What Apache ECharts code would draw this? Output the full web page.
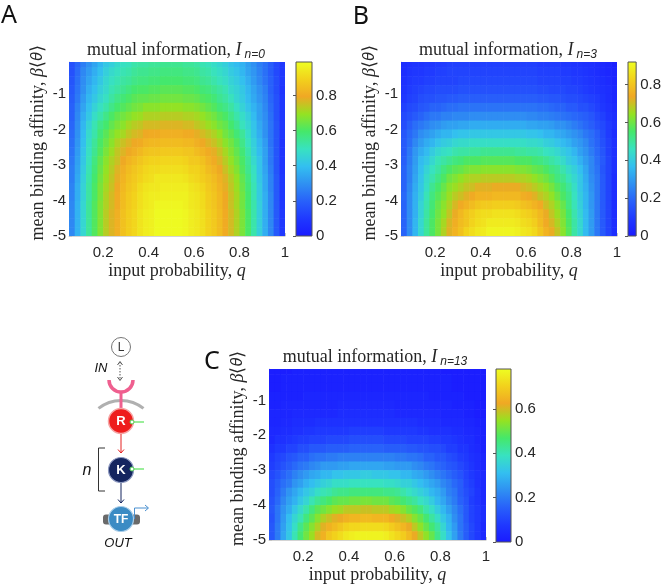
<!DOCTYPE html>
<html>
<head>
<meta charset="utf-8">
<script src="https://cdn.jsdelivr.net/npm/echarts@6.0.0/dist/echarts.min.js"></script>
<style>
html, body { margin: 0; padding: 0; background: #fff; }
#main { width: 664px; height: 585px; }
</style>
</head>
<body>
<div id="main"></div>
<script>
// cell centres of the q / <theta> grid
var qCenters = [0.0625, 0.0875, 0.1125, 0.1375, 0.1625, 0.1875, 0.2125, 0.2375, 0.2625, 0.2875,
                0.3125, 0.3375, 0.3625, 0.3875, 0.4125, 0.4375, 0.4625, 0.4875, 0.5125, 0.5375,
                0.5625, 0.5875, 0.6125, 0.6375, 0.6625, 0.6875, 0.7125, 0.7375, 0.7625, 0.7875,
                0.8125, 0.8375, 0.8625, 0.8875, 0.9125, 0.9375, 0.9625, 0.9875];
var thetaCenters = [-0.125, -0.375, -0.625, -0.875, -1.125, -1.375, -1.625, -1.875, -2.125, -2.375,
                    -2.625, -2.875, -3.125, -3.375, -3.625, -3.875, -4.125, -4.375, -4.625, -4.875];
var xTicks = [0.2, 0.4, 0.6, 0.8, 1];
var yTicks = [-5, -4, -3, -2, -1];
var cbTicks = [0, 0.2, 0.4, 0.6, 0.8];
var cbMax = [0.99, 0.92, 0.78];
var subLabels = ['n=0', 'n=3', 'n=13'];
var panelLetters = ['A', 'B', 'C'];

// mutual information, rows top (-0.125) to bottom (-4.875)
var miN0 = [
  [0.16,0.21,0.26,0.30,0.34,0.38,0.42,0.44,0.47,0.49,0.50,0.52,0.53,0.53,0.54,0.54,0.55,0.55,0.55,0.55,0.54,0.54,0.53,0.51,0.50,0.48,0.46,0.44,0.41,0.39,0.37,0.33,0.30,0.26,0.23,0.19,0.14,0.10],
  [0.16,0.22,0.28,0.32,0.36,0.40,0.44,0.47,0.49,0.51,0.52,0.54,0.55,0.55,0.56,0.56,0.57,0.57,0.57,0.57,0.56,0.56,0.55,0.53,0.52,0.50,0.48,0.46,0.43,0.41,0.38,0.34,0.31,0.27,0.23,0.19,0.14,0.10],
  [0.17,0.23,0.29,0.34,0.38,0.42,0.46,0.49,0.51,0.53,0.54,0.56,0.57,0.57,0.58,0.58,0.59,0.59,0.59,0.59,0.58,0.58,0.57,0.55,0.54,0.52,0.50,0.48,0.45,0.43,0.40,0.36,0.32,0.28,0.24,0.20,0.15,0.10],
  [0.18,0.24,0.30,0.36,0.40,0.44,0.47,0.51,0.53,0.55,0.57,0.59,0.60,0.60,0.61,0.61,0.62,0.62,0.62,0.62,0.61,0.61,0.60,0.58,0.57,0.55,0.53,0.51,0.47,0.45,0.42,0.38,0.34,0.30,0.26,0.20,0.15,0.09],
  [0.19,0.25,0.32,0.38,0.42,0.46,0.49,0.53,0.56,0.58,0.60,0.62,0.63,0.63,0.64,0.64,0.65,0.65,0.65,0.65,0.64,0.64,0.63,0.61,0.60,0.58,0.55,0.53,0.50,0.46,0.43,0.39,0.35,0.31,0.27,0.21,0.16,0.10],
  [0.20,0.27,0.34,0.40,0.45,0.49,0.52,0.56,0.59,0.61,0.63,0.65,0.66,0.68,0.68,0.68,0.69,0.69,0.69,0.69,0.68,0.68,0.67,0.65,0.63,0.61,0.58,0.56,0.53,0.49,0.45,0.41,0.37,0.33,0.28,0.22,0.16,0.10],
  [0.20,0.28,0.36,0.42,0.48,0.52,0.56,0.60,0.63,0.65,0.67,0.69,0.70,0.72,0.72,0.72,0.73,0.73,0.73,0.73,0.72,0.72,0.71,0.69,0.67,0.65,0.62,0.60,0.56,0.52,0.48,0.44,0.39,0.33,0.29,0.23,0.16,0.10],
  [0.21,0.29,0.38,0.45,0.51,0.56,0.59,0.63,0.66,0.68,0.71,0.73,0.74,0.76,0.76,0.76,0.77,0.77,0.77,0.77,0.76,0.76,0.74,0.72,0.70,0.68,0.65,0.63,0.59,0.55,0.50,0.46,0.41,0.35,0.30,0.24,0.17,0.10],
  [0.22,0.30,0.39,0.47,0.52,0.58,0.62,0.66,0.69,0.71,0.74,0.76,0.77,0.79,0.80,0.80,0.81,0.81,0.81,0.81,0.80,0.80,0.78,0.76,0.74,0.72,0.69,0.65,0.62,0.58,0.54,0.48,0.42,0.36,0.30,0.24,0.17,0.10],
  [0.23,0.31,0.40,0.48,0.54,0.60,0.64,0.68,0.72,0.75,0.77,0.79,0.80,0.82,0.83,0.83,0.84,0.84,0.84,0.84,0.83,0.83,0.81,0.79,0.77,0.75,0.72,0.68,0.65,0.61,0.56,0.50,0.44,0.38,0.32,0.24,0.17,0.09],
  [0.24,0.32,0.41,0.49,0.55,0.61,0.66,0.70,0.74,0.77,0.79,0.81,0.83,0.85,0.86,0.86,0.87,0.87,0.87,0.87,0.86,0.86,0.84,0.82,0.80,0.78,0.75,0.71,0.67,0.63,0.58,0.52,0.45,0.39,0.33,0.25,0.17,0.09],
  [0.25,0.33,0.42,0.50,0.57,0.63,0.68,0.72,0.75,0.79,0.82,0.84,0.86,0.88,0.89,0.89,0.90,0.90,0.90,0.90,0.89,0.87,0.87,0.85,0.82,0.80,0.77,0.73,0.69,0.65,0.60,0.54,0.47,0.41,0.33,0.25,0.17,0.09],
  [0.26,0.34,0.43,0.51,0.58,0.64,0.69,0.73,0.77,0.81,0.84,0.86,0.88,0.90,0.91,0.91,0.92,0.92,0.92,0.92,0.91,0.89,0.89,0.87,0.84,0.82,0.79,0.75,0.71,0.67,0.61,0.55,0.49,0.41,0.34,0.26,0.17,0.09],
  [0.26,0.35,0.44,0.52,0.59,0.65,0.70,0.74,0.78,0.82,0.85,0.87,0.89,0.91,0.92,0.94,0.94,0.94,0.94,0.94,0.93,0.91,0.90,0.88,0.86,0.84,0.81,0.77,0.73,0.69,0.63,0.57,0.50,0.42,0.35,0.27,0.18,0.10],
  [0.27,0.36,0.45,0.53,0.60,0.66,0.71,0.75,0.79,0.83,0.86,0.88,0.91,0.93,0.94,0.94,0.95,0.95,0.95,0.95,0.95,0.93,0.92,0.90,0.87,0.85,0.82,0.78,0.74,0.70,0.64,0.58,0.51,0.43,0.35,0.27,0.18,0.10],
  [0.27,0.36,0.45,0.53,0.60,0.66,0.72,0.76,0.80,0.84,0.87,0.89,0.92,0.94,0.95,0.95,0.96,0.96,0.96,0.96,0.96,0.94,0.93,0.91,0.88,0.86,0.83,0.79,0.75,0.71,0.65,0.59,0.51,0.43,0.36,0.28,0.18,0.10],
  [0.28,0.37,0.46,0.54,0.61,0.67,0.72,0.76,0.80,0.84,0.87,0.89,0.92,0.94,0.95,0.97,0.97,0.97,0.97,0.97,0.96,0.94,0.93,0.91,0.88,0.86,0.83,0.79,0.75,0.71,0.65,0.59,0.52,0.44,0.36,0.28,0.18,0.10],
  [0.28,0.37,0.46,0.54,0.61,0.67,0.73,0.77,0.81,0.85,0.88,0.90,0.93,0.95,0.96,0.98,0.98,0.98,0.98,0.98,0.97,0.95,0.94,0.92,0.89,0.87,0.84,0.80,0.76,0.72,0.66,0.60,0.52,0.44,0.36,0.28,0.18,0.10],
  [0.28,0.37,0.46,0.54,0.61,0.67,0.73,0.77,0.81,0.85,0.88,0.90,0.93,0.95,0.96,0.98,0.98,0.98,0.98,0.98,0.97,0.95,0.94,0.92,0.89,0.87,0.84,0.80,0.76,0.72,0.66,0.60,0.52,0.44,0.36,0.28,0.18,0.10],
  [0.28,0.37,0.46,0.54,0.61,0.67,0.73,0.77,0.81,0.85,0.88,0.90,0.93,0.95,0.96,0.98,0.98,0.98,0.98,0.98,0.97,0.95,0.94,0.92,0.89,0.87,0.84,0.80,0.76,0.72,0.66,0.60,0.52,0.44,0.36,0.28,0.18,0.10]
];
var miN3 = [
  [0.06,0.07,0.08,0.08,0.09,0.09,0.10,0.10,0.11,0.11,0.11,0.11,0.11,0.11,0.11,0.11,0.11,0.11,0.11,0.11,0.11,0.11,0.11,0.11,0.10,0.10,0.10,0.10,0.09,0.09,0.08,0.08,0.07,0.07,0.06,0.05,0.04,0.02],
  [0.06,0.08,0.09,0.09,0.10,0.10,0.11,0.11,0.12,0.12,0.12,0.12,0.12,0.12,0.12,0.12,0.12,0.12,0.12,0.12,0.12,0.12,0.12,0.12,0.11,0.11,0.11,0.11,0.10,0.10,0.09,0.09,0.08,0.07,0.06,0.05,0.04,0.03],
  [0.07,0.09,0.10,0.10,0.11,0.11,0.12,0.12,0.12,0.12,0.13,0.13,0.13,0.13,0.13,0.13,0.13,0.13,0.13,0.13,0.13,0.13,0.13,0.13,0.12,0.12,0.12,0.12,0.11,0.11,0.10,0.10,0.09,0.08,0.07,0.06,0.05,0.03],
  [0.08,0.10,0.11,0.12,0.13,0.13,0.14,0.14,0.14,0.14,0.15,0.15,0.15,0.15,0.15,0.15,0.15,0.15,0.15,0.15,0.15,0.15,0.15,0.15,0.14,0.14,0.13,0.13,0.13,0.12,0.12,0.11,0.10,0.09,0.08,0.07,0.06,0.04],
  [0.09,0.11,0.12,0.14,0.15,0.15,0.16,0.16,0.17,0.17,0.18,0.18,0.18,0.18,0.18,0.18,0.18,0.18,0.18,0.18,0.18,0.18,0.18,0.18,0.17,0.17,0.16,0.16,0.15,0.14,0.14,0.13,0.12,0.11,0.10,0.08,0.06,0.04],
  [0.11,0.13,0.14,0.16,0.17,0.19,0.19,0.20,0.21,0.21,0.22,0.22,0.22,0.22,0.22,0.22,0.22,0.22,0.22,0.22,0.22,0.22,0.22,0.22,0.21,0.21,0.20,0.19,0.19,0.17,0.17,0.15,0.15,0.13,0.11,0.09,0.07,0.05],
  [0.13,0.15,0.17,0.19,0.21,0.23,0.23,0.25,0.25,0.26,0.26,0.26,0.27,0.27,0.27,0.27,0.27,0.27,0.27,0.27,0.27,0.27,0.26,0.26,0.25,0.25,0.24,0.23,0.22,0.21,0.20,0.19,0.18,0.16,0.13,0.11,0.08,0.06],
  [0.14,0.18,0.21,0.23,0.25,0.27,0.28,0.30,0.31,0.31,0.32,0.32,0.33,0.33,0.33,0.33,0.33,0.33,0.33,0.33,0.33,0.33,0.32,0.32,0.31,0.31,0.30,0.28,0.28,0.26,0.24,0.22,0.20,0.18,0.15,0.13,0.10,0.07],
  [0.16,0.20,0.23,0.27,0.29,0.31,0.33,0.35,0.35,0.37,0.38,0.38,0.39,0.39,0.39,0.39,0.39,0.39,0.39,0.39,0.39,0.39,0.38,0.38,0.37,0.35,0.35,0.33,0.32,0.30,0.28,0.26,0.23,0.21,0.18,0.14,0.10,0.06],
  [0.17,0.21,0.26,0.30,0.33,0.35,0.38,0.40,0.41,0.43,0.44,0.44,0.45,0.45,0.45,0.45,0.45,0.45,0.45,0.45,0.45,0.45,0.44,0.44,0.43,0.41,0.40,0.38,0.36,0.34,0.31,0.29,0.26,0.22,0.19,0.15,0.11,0.07],
  [0.17,0.23,0.29,0.33,0.36,0.40,0.43,0.45,0.46,0.48,0.49,0.49,0.50,0.50,0.51,0.51,0.51,0.51,0.51,0.51,0.50,0.50,0.49,0.49,0.48,0.46,0.45,0.43,0.40,0.38,0.35,0.31,0.28,0.24,0.20,0.16,0.11,0.07],
  [0.18,0.24,0.30,0.36,0.39,0.43,0.47,0.49,0.51,0.53,0.54,0.56,0.56,0.56,0.57,0.57,0.57,0.57,0.57,0.57,0.56,0.56,0.56,0.54,0.53,0.51,0.49,0.47,0.44,0.40,0.38,0.34,0.30,0.26,0.21,0.17,0.12,0.07],
  [0.19,0.25,0.31,0.37,0.42,0.46,0.49,0.53,0.56,0.58,0.59,0.61,0.62,0.62,0.63,0.63,0.63,0.63,0.63,0.63,0.62,0.62,0.61,0.59,0.58,0.56,0.53,0.51,0.48,0.44,0.41,0.37,0.32,0.26,0.22,0.16,0.12,0.07],
  [0.19,0.25,0.32,0.38,0.44,0.48,0.52,0.56,0.60,0.62,0.64,0.66,0.67,0.67,0.68,0.68,0.68,0.68,0.68,0.68,0.67,0.67,0.66,0.64,0.62,0.60,0.57,0.53,0.51,0.47,0.43,0.39,0.33,0.27,0.23,0.17,0.12,0.06],
  [0.19,0.26,0.33,0.39,0.45,0.51,0.55,0.59,0.63,0.65,0.67,0.69,0.70,0.72,0.72,0.72,0.73,0.73,0.73,0.73,0.73,0.71,0.70,0.68,0.66,0.64,0.61,0.57,0.54,0.50,0.45,0.39,0.34,0.28,0.23,0.17,0.12,0.06],
  [0.20,0.27,0.34,0.40,0.47,0.53,0.57,0.61,0.65,0.68,0.70,0.72,0.74,0.76,0.76,0.76,0.77,0.77,0.77,0.77,0.77,0.75,0.74,0.72,0.69,0.67,0.64,0.60,0.56,0.52,0.46,0.40,0.35,0.29,0.23,0.17,0.12,0.06],
  [0.19,0.27,0.34,0.42,0.48,0.54,0.59,0.63,0.67,0.71,0.74,0.76,0.78,0.80,0.81,0.81,0.82,0.82,0.82,0.82,0.81,0.79,0.78,0.76,0.74,0.70,0.67,0.63,0.59,0.53,0.47,0.41,0.35,0.29,0.23,0.17,0.12,0.06],
  [0.19,0.27,0.34,0.42,0.49,0.55,0.60,0.64,0.69,0.73,0.77,0.80,0.82,0.84,0.85,0.85,0.86,0.86,0.86,0.86,0.85,0.83,0.82,0.80,0.77,0.73,0.69,0.65,0.61,0.55,0.48,0.42,0.36,0.30,0.23,0.17,0.12,0.06],
  [0.19,0.27,0.35,0.43,0.50,0.56,0.61,0.66,0.71,0.75,0.78,0.80,0.83,0.85,0.86,0.88,0.88,0.88,0.88,0.88,0.87,0.85,0.84,0.82,0.78,0.74,0.71,0.67,0.62,0.56,0.49,0.43,0.36,0.30,0.23,0.17,0.12,0.06],
  [0.19,0.27,0.35,0.43,0.50,0.56,0.61,0.67,0.72,0.76,0.79,0.83,0.85,0.87,0.88,0.90,0.90,0.90,0.90,0.90,0.89,0.87,0.86,0.84,0.80,0.76,0.73,0.69,0.63,0.57,0.49,0.43,0.36,0.30,0.23,0.17,0.12,0.06]
];
var miN13 = [
  [0.01,0.01,0.01,0.01,0.02,0.02,0.02,0.02,0.02,0.02,0.02,0.02,0.02,0.02,0.02,0.02,0.02,0.02,0.02,0.02,0.02,0.02,0.02,0.02,0.02,0.02,0.02,0.02,0.02,0.02,0.01,0.01,0.01,0.01,0.01,0.01,0.01,0.01],
  [0.01,0.01,0.02,0.02,0.02,0.02,0.02,0.02,0.02,0.02,0.02,0.02,0.02,0.02,0.02,0.02,0.02,0.02,0.02,0.02,0.02,0.02,0.02,0.02,0.02,0.02,0.02,0.02,0.02,0.02,0.02,0.02,0.01,0.01,0.01,0.01,0.01,0.01],
  [0.01,0.01,0.02,0.02,0.02,0.02,0.02,0.02,0.02,0.02,0.02,0.02,0.02,0.02,0.02,0.02,0.02,0.02,0.02,0.02,0.02,0.02,0.02,0.02,0.02,0.02,0.02,0.02,0.02,0.02,0.02,0.02,0.01,0.01,0.01,0.01,0.01,0.01],
  [0.02,0.02,0.02,0.02,0.02,0.02,0.03,0.03,0.03,0.03,0.03,0.03,0.03,0.03,0.03,0.03,0.03,0.03,0.03,0.03,0.03,0.03,0.03,0.03,0.03,0.03,0.03,0.03,0.02,0.02,0.02,0.02,0.02,0.02,0.01,0.01,0.01,0.01],
  [0.02,0.02,0.03,0.03,0.03,0.03,0.03,0.03,0.03,0.03,0.03,0.03,0.04,0.04,0.04,0.04,0.04,0.04,0.04,0.04,0.04,0.04,0.03,0.03,0.03,0.03,0.03,0.03,0.03,0.03,0.03,0.03,0.02,0.02,0.02,0.02,0.01,0.01],
  [0.03,0.03,0.03,0.03,0.04,0.04,0.04,0.04,0.04,0.04,0.04,0.04,0.05,0.05,0.05,0.05,0.05,0.05,0.05,0.05,0.05,0.05,0.04,0.04,0.04,0.04,0.04,0.04,0.04,0.04,0.03,0.03,0.03,0.03,0.02,0.02,0.01,0.01],
  [0.03,0.03,0.04,0.04,0.05,0.05,0.05,0.05,0.06,0.06,0.06,0.06,0.06,0.06,0.06,0.06,0.06,0.06,0.06,0.06,0.06,0.06,0.06,0.06,0.06,0.06,0.05,0.05,0.05,0.05,0.04,0.04,0.04,0.04,0.03,0.03,0.02,0.02],
  [0.04,0.04,0.05,0.05,0.06,0.06,0.07,0.07,0.08,0.08,0.08,0.08,0.08,0.08,0.09,0.09,0.09,0.09,0.09,0.09,0.08,0.08,0.08,0.08,0.08,0.08,0.07,0.07,0.06,0.06,0.06,0.06,0.05,0.05,0.04,0.04,0.03,0.02],
  [0.04,0.06,0.06,0.07,0.08,0.09,0.09,0.10,0.10,0.10,0.11,0.11,0.11,0.11,0.12,0.12,0.12,0.12,0.12,0.12,0.11,0.11,0.11,0.11,0.10,0.10,0.10,0.10,0.09,0.09,0.08,0.08,0.07,0.06,0.05,0.05,0.03,0.02],
  [0.06,0.08,0.08,0.10,0.10,0.12,0.12,0.14,0.14,0.14,0.15,0.15,0.15,0.15,0.16,0.16,0.16,0.16,0.16,0.16,0.15,0.15,0.15,0.15,0.14,0.14,0.13,0.13,0.12,0.12,0.11,0.09,0.09,0.07,0.07,0.05,0.04,0.02],
  [0.08,0.10,0.11,0.13,0.14,0.16,0.16,0.18,0.19,0.19,0.20,0.20,0.21,0.21,0.21,0.21,0.21,0.21,0.21,0.21,0.21,0.21,0.20,0.20,0.19,0.19,0.18,0.16,0.16,0.14,0.14,0.12,0.11,0.09,0.08,0.06,0.05,0.03],
  [0.09,0.11,0.13,0.15,0.17,0.19,0.20,0.22,0.23,0.25,0.25,0.25,0.26,0.26,0.27,0.27,0.27,0.27,0.27,0.27,0.26,0.26,0.25,0.25,0.25,0.23,0.22,0.20,0.19,0.17,0.16,0.14,0.13,0.11,0.09,0.07,0.05,0.03],
  [0.11,0.13,0.16,0.18,0.21,0.23,0.25,0.27,0.28,0.30,0.30,0.32,0.32,0.33,0.33,0.33,0.34,0.34,0.33,0.33,0.33,0.32,0.32,0.30,0.30,0.28,0.27,0.25,0.23,0.21,0.19,0.17,0.15,0.13,0.10,0.08,0.06,0.04],
  [0.12,0.15,0.18,0.20,0.24,0.26,0.29,0.31,0.33,0.35,0.36,0.38,0.38,0.38,0.39,0.39,0.39,0.39,0.39,0.39,0.38,0.38,0.37,0.35,0.35,0.33,0.31,0.29,0.27,0.25,0.22,0.20,0.17,0.15,0.11,0.09,0.06,0.04],
  [0.12,0.16,0.20,0.24,0.27,0.30,0.33,0.35,0.38,0.40,0.41,0.43,0.44,0.44,0.45,0.45,0.45,0.45,0.45,0.45,0.44,0.44,0.43,0.41,0.39,0.37,0.35,0.33,0.30,0.28,0.25,0.21,0.19,0.15,0.12,0.10,0.07,0.04],
  [0.13,0.17,0.22,0.26,0.29,0.33,0.36,0.40,0.43,0.45,0.47,0.49,0.50,0.50,0.51,0.51,0.52,0.52,0.51,0.51,0.51,0.49,0.48,0.46,0.44,0.42,0.39,0.37,0.34,0.30,0.27,0.23,0.20,0.16,0.13,0.09,0.07,0.04],
  [0.14,0.19,0.24,0.28,0.33,0.37,0.41,0.45,0.49,0.51,0.53,0.55,0.56,0.58,0.58,0.58,0.59,0.59,0.58,0.58,0.58,0.56,0.55,0.53,0.50,0.48,0.45,0.41,0.38,0.34,0.30,0.26,0.22,0.18,0.14,0.10,0.08,0.05],
  [0.13,0.19,0.25,0.31,0.36,0.40,0.45,0.49,0.53,0.57,0.59,0.61,0.62,0.64,0.65,0.65,0.66,0.66,0.65,0.65,0.65,0.63,0.61,0.59,0.57,0.53,0.50,0.46,0.42,0.38,0.33,0.29,0.23,0.19,0.14,0.10,0.08,0.05],
  [0.14,0.20,0.26,0.32,0.38,0.44,0.49,0.53,0.57,0.61,0.64,0.66,0.68,0.70,0.71,0.71,0.72,0.72,0.72,0.72,0.71,0.69,0.67,0.65,0.62,0.58,0.54,0.50,0.46,0.42,0.36,0.30,0.25,0.19,0.15,0.11,0.08,0.04],
  [0.14,0.20,0.27,0.33,0.40,0.46,0.51,0.55,0.60,0.64,0.68,0.70,0.72,0.74,0.75,0.76,0.76,0.76,0.76,0.76,0.75,0.73,0.71,0.69,0.66,0.62,0.58,0.54,0.50,0.44,0.38,0.32,0.26,0.20,0.15,0.11,0.08,0.04]
];
var miSets = [miN0, miN3, miN13];

// blue -> cyan -> green -> orange -> yellow
var cmap = ['#1a1aff', '#1f38ff', '#2860fa', '#2f90f2', '#33bff0', '#38e2c0',
            '#45e86a', '#95e222', '#f0a824', '#f2d21c', '#eeff22'];

// pixel boxes [left, top, width, height]
var plotBox = [[69, 62, 216, 174], [401, 62, 216, 174], [269, 369, 217, 173]];
var barBox = [[296, 62, 16, 174], [628, 62, 16, 174], [496, 369, 15, 173]];
var titlePos = [[176, 50], [508, 50], [375, 357]];
var letterPos = [[9, 16], [361, 17], [212, 362]];

var tickFont = 'Liberation Sans';
var serif = 'Liberation Serif';

function toCells(rows) {
  var out = [];
  rows.forEach(function (row, i) {
    row.forEach(function (v, j) {
      out.push([qCenters[j], thetaCenters[i], v]);
    });
  });
  return out;
}

function renderCell(params, api) {
  var q = api.value(0), th = api.value(1);
  var a = api.coord([q - 0.0125, th + 0.125]);
  var b = api.coord([q + 0.0125, th - 0.125]);
  var cs = params.coordSys;
  var x0 = Math.max(a[0], cs.x), y0 = Math.max(a[1], cs.y);
  var x1 = Math.min(b[0] + 0.6, cs.x + cs.width), y1 = Math.min(b[1] + 0.6, cs.y + cs.height);
  if (x1 <= x0 || y1 <= y0) return;
  return {
    type: 'rect',
    shape: { x: x0, y: y0, width: x1 - x0, height: y1 - y0 },
    style: { fill: api.visual('color') }
  };
}

function renderBar(params, api) {
  var top = api.coord([0, api.value(1)]);
  var bot = api.coord([1, 0]);
  var stops = cmap.map(function (c, i) { return { offset: i / (cmap.length - 1), color: c }; });
  return {
    type: 'rect',
    shape: { x: top[0], y: top[1], width: bot[0] - top[0], height: bot[1] - top[1] },
    style: {
      fill: new echarts.graphic.LinearGradient(0, 1, 0, 0, stops),
      stroke: '#555', lineWidth: 1
    }
  };
}

var grids = [], xAxes = [], yAxes = [], series = [], visualMaps = [], graphics = [];

for (var k = 0; k < 3; k++) {
  var pb = plotBox[k], bb = barBox[k];
  grids.push({ left: pb[0], top: pb[1], width: pb[2], height: pb[3] });
  grids.push({ left: bb[0], top: bb[1], width: bb[2], height: bb[3] });

  xAxes.push({
    type: 'value', gridIndex: 2 * k, min: 0.05, max: 1,
    axisLine: { show: true, lineStyle: { color: '#d4d4d4', width: 1 } },
    axisTick: { show: true, inside: true, length: 3, customValues: xTicks, lineStyle: { color: '#c4c4c4' } },
    axisLabel: { customValues: xTicks, margin: 9, fontSize: 15, color: '#262626', fontFamily: tickFont },
    splitLine: { show: false },
    name: '{a|input probability, }{b|q}',
    nameLocation: 'middle', nameGap: 26,
    nameTextStyle: {
      rich: {
        a: { fontFamily: serif, fontSize: 18, color: '#262626' },
        b: { fontFamily: serif, fontSize: 18, fontStyle: 'italic', color: '#262626' }
      }
    }
  });
  yAxes.push({
    type: 'value', gridIndex: 2 * k, min: -5, max: -0.1,
    axisLine: { show: true, lineStyle: { color: '#d4d4d4', width: 1 } },
    axisTick: { show: true, inside: true, length: 3, customValues: yTicks, lineStyle: { color: '#c4c4c4' } },
    axisLabel: { customValues: yTicks, margin: 3, fontSize: 15, color: '#262626', fontFamily: tickFont },
    splitLine: { show: false },
    name: '{a|mean binding affinity, }{b|β}{a|⟨}{c|θ}{a|⟩}',
    nameLocation: 'middle', nameRotate: 90, nameGap: 22,
    nameTextStyle: {
      padding: [0, 0, 0, 12],
      rich: {
        a: { fontFamily: serif, fontSize: 18, color: '#262626' },
        b: { fontFamily: serif, fontSize: 18, fontStyle: 'italic', color: '#262626' },
        c: { fontFamily: tickFont, fontSize: 16, fontStyle: 'italic', color: '#262626' }
      }
    }
  });

  xAxes.push({ type: 'value', gridIndex: 2 * k + 1, min: 0, max: 1, show: false });
  yAxes.push({
    type: 'value', gridIndex: 2 * k + 1, min: 0, max: cbMax[k], position: 'right', z: 5,
    axisLine: { show: false },
    axisTick: {
      show: true, inside: true, length: 3, lineStyle: { color: '#555' },
      customValues: cbTicks.filter(function (t) { return t <= cbMax[k]; })
    },
    axisLabel: {
      margin: 4, fontSize: 15, color: '#262626', fontFamily: tickFont,
      customValues: cbTicks.filter(function (t) { return t <= cbMax[k]; })
    },
    splitLine: { show: false }
  });

  series.push({
    type: 'custom', xAxisIndex: 2 * k, yAxisIndex: 2 * k,
    data: toCells(miSets[k]), encode: { x: 0, y: 1 },
    renderItem: renderCell, silent: true
  });
  series.push({
    type: 'custom', xAxisIndex: 2 * k + 1, yAxisIndex: 2 * k + 1,
    data: [[0, cbMax[k]]], encode: { x: 0, y: 1 },
    renderItem: renderBar, silent: true
  });

  visualMaps.push({
    type: 'continuous', show: false, seriesIndex: 2 * k, dimension: 2,
    min: 0, max: cbMax[k], inRange: { color: cmap }
  });

  graphics.push({
    type: 'text', x: titlePos[k][0], y: titlePos[k][1],
    style: {
      text: '{t|mutual information, }{i|I}{s|' + subLabels[k] + '}',
      align: 'center', verticalAlign: 'middle',
      rich: {
        t: { fontFamily: serif, fontSize: 18, lineHeight: 22, fill: '#262626' },
        i: { fontFamily: serif, fontSize: 18, fontStyle: 'italic', lineHeight: 22, fill: '#262626', padding: [0, 3, 0, 0] },
        s: { fontFamily: tickFont, fontSize: 12, fontStyle: 'italic', lineHeight: 12, verticalAlign: 'bottom', fill: '#262626' }
      }
    }
  });
  graphics.push({
    type: 'text', x: letterPos[k][0], y: letterPos[k][1],
    style: { text: panelLetters[k], font: '25px "Noto Sans"', fill: '#111', align: 'center', verticalAlign: 'middle' }
  });
}

// signalling cascade sketch (bottom left)
var navy = '#15255f', pink = '#ef5f8f', green = '#79e879';
graphics.push(
  { type: 'circle', shape: { cx: 121, cy: 347, r: 9.5 }, style: { fill: '#fff', stroke: '#777', lineWidth: 1 } },
  { type: 'text', x: 121, y: 347.5, style: { text: 'L', font: '12px "Liberation Sans"', fill: '#333', align: 'center', verticalAlign: 'middle' } },
  { type: 'line', shape: { x1: 120, y1: 362, x2: 120, y2: 380 }, style: { stroke: '#555', lineWidth: 1, lineDash: [1.5, 1.5] } },
  { type: 'polyline', shape: { points: [[117.5, 365], [120, 361.5], [122.5, 365]] }, style: { stroke: '#555', lineWidth: 1, fill: null } },
  { type: 'polyline', shape: { points: [[117.5, 377], [120, 380.5], [122.5, 377]] }, style: { stroke: '#555', lineWidth: 1, fill: null } },
  { type: 'text', x: 101, y: 368, style: { text: 'IN', font: 'italic 13px "Liberation Sans"', fill: '#111', align: 'center', verticalAlign: 'middle' } },
  { type: 'arc', shape: { cx: 121, cy: 436, r: 35.6, startAngle: -2.255, endAngle: -0.887, clockwise: true }, style: { stroke: '#b0b0b0', lineWidth: 3, fill: null } },
  { type: 'arc', shape: { cx: 121, cy: 380, r: 12, startAngle: 0, endAngle: Math.PI, clockwise: true }, style: { stroke: pink, lineWidth: 3.5, fill: null } },
  { type: 'line', shape: { x1: 121, y1: 392, x2: 121, y2: 409 }, style: { stroke: pink, lineWidth: 3 } },
  { type: 'line', shape: { x1: 132, y1: 422, x2: 144, y2: 422 }, style: { stroke: green, lineWidth: 1.5 } },
  { type: 'circle', shape: { cx: 121, cy: 421, r: 12.5 }, style: { fill: '#ee1d1d', stroke: '#f6a5a5', lineWidth: 1.5 } },
  { type: 'circle', shape: { cx: 132, cy: 422, r: 2 }, style: { fill: '#fff', stroke: '#4fd04f', lineWidth: 1 } },
  { type: 'text', x: 121, y: 421.5, style: { text: 'R', font: 'bold 13px "Liberation Sans"', fill: '#fff', align: 'center', verticalAlign: 'middle' } },
  { type: 'line', shape: { x1: 121, y1: 434, x2: 121, y2: 453 }, style: { stroke: '#e52020', lineWidth: 1 } },
  { type: 'polyline', shape: { points: [[118, 449.5], [121, 453], [124, 449.5]] }, style: { stroke: '#e52020', lineWidth: 1, fill: null } },
  { type: 'line', shape: { x1: 132, y1: 469, x2: 144, y2: 469 }, style: { stroke: green, lineWidth: 1.5 } },
  { type: 'circle', shape: { cx: 121, cy: 470, r: 12.5 }, style: { fill: navy, stroke: '#8c98c0', lineWidth: 1.2 } },
  { type: 'circle', shape: { cx: 132, cy: 469, r: 2 }, style: { fill: '#fff', stroke: '#4fd04f', lineWidth: 1 } },
  { type: 'text', x: 121, y: 470.5, style: { text: 'K', font: 'bold 13px "Liberation Sans"', fill: '#fff', align: 'center', verticalAlign: 'middle' } },
  { type: 'polyline', shape: { points: [[105, 448], [98.5, 448], [98.5, 491], [105, 491]] }, style: { stroke: '#333', lineWidth: 1, fill: null } },
  { type: 'text', x: 87, y: 471, style: { text: 'n', font: 'italic 16px "Liberation Sans"', fill: '#111', align: 'center', verticalAlign: 'middle' } },
  { type: 'line', shape: { x1: 121, y1: 483, x2: 121, y2: 503 }, style: { stroke: navy, lineWidth: 1 } },
  { type: 'polyline', shape: { points: [[118, 499.5], [121, 503], [124, 499.5]] }, style: { stroke: navy, lineWidth: 1, fill: null } },
  { type: 'rect', shape: { x: 103, y: 514.5, width: 37, height: 10, r: 3 }, style: { fill: '#6a6a6a' } },
  { type: 'circle', shape: { cx: 121, cy: 519, r: 12.5 }, style: { fill: '#3b8bc4', stroke: '#a8cde8', lineWidth: 1.2 } },
  { type: 'text', x: 121, y: 519.5, style: { text: 'TF', font: 'bold 12px "Liberation Sans"', fill: '#fff', align: 'center', verticalAlign: 'middle' } },
  { type: 'polyline', shape: { points: [[134.5, 519], [134.5, 508], [148, 508]] }, style: { stroke: '#4a90d0', lineWidth: 1, fill: null } },
  { type: 'polyline', shape: { points: [[145, 505], [148.5, 508], [145, 511]] }, style: { stroke: '#4a90d0', lineWidth: 1, fill: null } },
  { type: 'text', x: 118, y: 543, style: { text: 'OUT', font: 'italic 13px "Liberation Sans"', fill: '#111', align: 'center', verticalAlign: 'middle' } }
);

var chart = echarts.init(document.getElementById('main'));
chart.setOption({
  animation: false,
  backgroundColor: '#fff',
  grid: grids,
  xAxis: xAxes,
  yAxis: yAxes,
  visualMap: visualMaps,
  series: series,
  graphic: graphics
});
</script>
</body>
</html>
